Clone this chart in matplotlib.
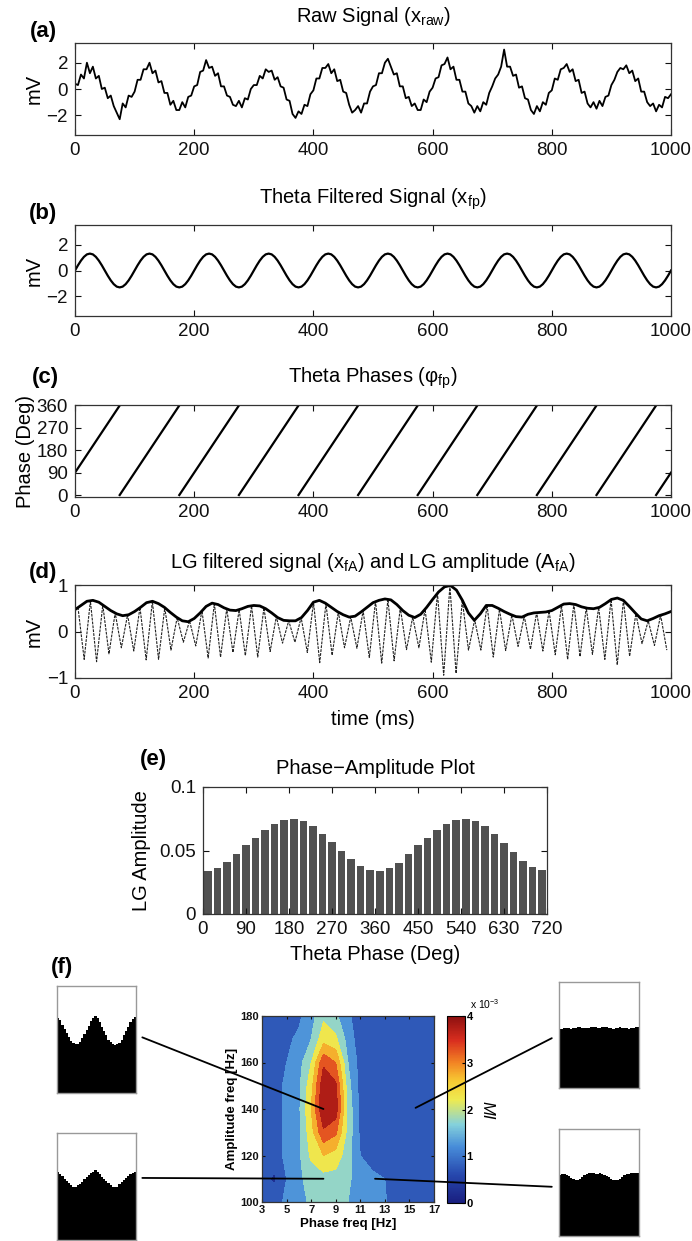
import matplotlib
matplotlib.use("Agg")
import matplotlib.pyplot as plt
import numpy as np
from matplotlib.patches import ConnectionPatch
from matplotlib.cm import ScalarMappable
from matplotlib.colors import Normalize, LinearSegmentedColormap

plt.rcParams["font.family"] = ["Liberation Sans", "DejaVu Sans"]
plt.rcParams["mathtext.fontset"] = "custom"
plt.rcParams["mathtext.rm"] = "Liberation Sans"
plt.rcParams["mathtext.it"] = "Liberation Sans:italic"
plt.rcParams["mathtext.bf"] = "Liberation Sans:bold"

# ---------------------------------------------------------------------------
# Data
# ---------------------------------------------------------------------------

# (a) raw signal, one value every 5 ms (mV)
raw_mv = [
    0.4, 0.3, 1.1, 0.8, 2.0, 1.2, 1.7, 0.8, 1.0, 0.0, 0.1, -0.7, -0.5, -1.3, -1.8, -2.3, -1.1, -1.4, -0.5, -0.6,
    -0.2, 0.7, 0.7, 1.5, 1.5, 2.0, 1.2, 1.4, 0.5, 0.6, -0.3, -0.3, -1.2, -0.9, -1.6, -1.6, -1.0, -1.4, -0.6, -0.5,
    0.2, 0.3, 1.3, 1.4, 2.2, 1.6, 1.7, 1.0, 1.2, 0.2, 0.2, -0.5, -0.6, -1.2, -1.3, -0.9, -1.4, -0.7, -0.8, 0.0,
    0.3, 0.3, 1.0, 0.8, 1.5, 1.3, 1.4, 0.7, 0.9, 0.2, 0.1, -0.8, -0.9, -1.9, -2.2, -1.7, -1.9, -1.2, -1.3, -0.4,
    -0.1, 0.8, 0.8, 1.6, 1.6, 1.9, 1.2, 1.5, 0.6, 0.7, -0.2, -0.3, -1.2, -1.8, -1.6, -1.3, -1.8, -1.1, -1.1, -0.2,
    0.2, 0.3, 1.2, 1.2, 2.0, 2.3, 1.7, 1.1, 1.2, 0.2, 0.2, -0.7, -0.6, -1.3, -1.1, -1.6, -1.6, -0.8, -1.0, -0.2,
    0.1, 0.8, 0.9, 1.8, 1.9, 2.4, 1.5, 1.7, 0.7, 0.7, -0.2, -0.2, -1.1, -1.3, -1.8, -1.3, -1.7, -1.0, -1.2, -0.3,
    0.2, 0.8, 1.1, 1.7, 3.0, 1.7, 1.7, 1.0, 1.1, 0.1, 0.2, -0.7, -0.8, -1.6, -1.9, -1.3, -1.7, -1.0, -1.2, -0.3,
    -0.1, 0.8, 0.7, 1.5, 1.6, 1.9, 1.3, 1.5, 0.6, 0.7, -0.3, -0.2, -1.1, -1.4, -1.0, -1.5, -0.9, -1.3, -0.6, -0.5,
    0.3, 0.7, 1.3, 1.6, 1.5, 1.8, 1.2, 1.4, 0.6, 0.8, -0.2, -0.2, -1.0, -1.3, -1.1, -1.7, -1.2, -1.4, -0.6, -0.7,
    -0.4,
]

# (b) theta filtered signal, one value every 5 ms (mV)
theta_mv = [
    0, 0.4, 0.76, 1.05, 1.24, 1.3, 1.24, 1.05, 0.76, 0.4, 0, -0.4, -0.76, -1.05, -1.24, -1.3, -1.24, -1.05, -0.76, -0.4,
    0, 0.4, 0.76, 1.05, 1.24, 1.3, 1.24, 1.05, 0.76, 0.4, 0, -0.4, -0.76, -1.05, -1.24, -1.3, -1.24, -1.05, -0.76, -0.4,
    0, 0.4, 0.76, 1.05, 1.24, 1.3, 1.24, 1.05, 0.76, 0.4, 0, -0.4, -0.76, -1.05, -1.24, -1.3, -1.24, -1.05, -0.76, -0.4,
    0, 0.4, 0.76, 1.05, 1.24, 1.3, 1.24, 1.05, 0.76, 0.4, 0, -0.4, -0.76, -1.05, -1.24, -1.3, -1.24, -1.05, -0.76, -0.4,
    0, 0.4, 0.76, 1.05, 1.24, 1.3, 1.24, 1.05, 0.76, 0.4, 0, -0.4, -0.76, -1.05, -1.24, -1.3, -1.24, -1.05, -0.76, -0.4,
    0, 0.4, 0.76, 1.05, 1.24, 1.3, 1.24, 1.05, 0.76, 0.4, 0, -0.4, -0.76, -1.05, -1.24, -1.3, -1.24, -1.05, -0.76, -0.4,
    0, 0.4, 0.76, 1.05, 1.24, 1.3, 1.24, 1.05, 0.76, 0.4, 0, -0.4, -0.76, -1.05, -1.24, -1.3, -1.24, -1.05, -0.76, -0.4,
    0, 0.4, 0.76, 1.05, 1.24, 1.3, 1.24, 1.05, 0.76, 0.4, 0, -0.4, -0.76, -1.05, -1.24, -1.3, -1.24, -1.05, -0.76, -0.4,
    0, 0.4, 0.76, 1.05, 1.24, 1.3, 1.24, 1.05, 0.76, 0.4, 0, -0.4, -0.76, -1.05, -1.24, -1.3, -1.24, -1.05, -0.76, -0.4,
    0, 0.4, 0.76, 1.05, 1.24, 1.3, 1.24, 1.05, 0.76, 0.4, 0, -0.4, -0.76, -1.05, -1.24, -1.3, -1.24, -1.05, -0.76, -0.4,
    0,
]

# (c) theta phase ramps: start/end time (ms) and phase (deg) of each segment
phase_t0 = [0, 75, 175, 275, 375, 475, 575, 675, 775, 875, 975]
phase_t1 = [75, 175, 275, 375, 475, 575, 675, 775, 875, 975, 1000]
phase_p0 = [90, 0, 0, 0, 0, 0, 0, 0, 0, 0, 0]
phase_p1 = [360, 360, 360, 360, 360, 360, 360, 360, 360, 360, 90]

# (d) LG amplitude envelope, one value every 10 ms (mV)
lg_env_mv = [
    0.47, 0.56, 0.65, 0.67, 0.63, 0.54, 0.45, 0.38, 0.34, 0.36,
    0.43, 0.52, 0.62, 0.65, 0.60, 0.52, 0.41, 0.31, 0.23, 0.21,
    0.28, 0.40, 0.54, 0.61, 0.58, 0.51, 0.46, 0.45, 0.49, 0.54,
    0.56, 0.55, 0.49, 0.40, 0.30, 0.24, 0.23, 0.23, 0.30, 0.45,
    0.63, 0.67, 0.61, 0.52, 0.43, 0.36, 0.31, 0.33, 0.42, 0.52,
    0.62, 0.67, 0.70, 0.68, 0.58, 0.45, 0.35, 0.30, 0.37, 0.52,
    0.69, 0.85, 0.96, 0.99, 0.89, 0.67, 0.40, 0.24, 0.38, 0.56,
    0.56, 0.50, 0.43, 0.37, 0.32, 0.31, 0.37, 0.40, 0.41, 0.42,
    0.45, 0.52, 0.59, 0.60, 0.58, 0.53, 0.50, 0.49, 0.52, 0.60,
    0.69, 0.72, 0.67, 0.54, 0.40, 0.27, 0.23, 0.28, 0.34, 0.38,
    0.43,
]

# (d) LG filtered signal: successive peaks/troughs, ~10.4 ms apart, first at 5 ms
lg_ext_mv = [
    0.52, -0.60, 0.66, -0.65, 0.57, -0.48, 0.40, -0.35, 0.36, -0.42,
    0.52, -0.61, 0.65, -0.60, 0.51, -0.40, 0.30, -0.23, 0.23, -0.31,
    0.45, -0.57, 0.60, -0.55, 0.49, -0.45, 0.47, -0.52, 0.55, -0.55,
    0.51, -0.43, 0.32, -0.25, 0.23, -0.23, 0.30, -0.45, 0.63, -0.67,
    0.60, -0.51, 0.42, -0.35, 0.31, -0.36, 0.45, -0.56, 0.65, -0.68,
    0.69, -0.63, 0.51, -0.39, 0.31, -0.35, 0.48, -0.66, 0.82, -0.94,
    0.98, -0.90, 0.67, -0.40, 0.25, -0.40, 0.56, -0.55, 0.48, -0.41,
    0.36, -0.32, 0.33, -0.38, 0.41, -0.42, 0.44, -0.50, 0.56, -0.60,
    0.59, -0.54, 0.51, -0.49, 0.52, -0.60, 0.69, -0.72, 0.67, -0.53,
    0.38, -0.26, 0.23, -0.30, 0.35, -0.40,
]

# (e) phase-amplitude histogram, 36 bins of 20 deg
pa_amp = [
    0.034, 0.036, 0.041, 0.047, 0.054, 0.060, 0.066, 0.071, 0.074,
    0.075, 0.073, 0.069, 0.063, 0.057, 0.050, 0.043, 0.038, 0.035,
    0.034, 0.036, 0.040, 0.047, 0.054, 0.060, 0.066, 0.071, 0.074,
    0.075, 0.073, 0.069, 0.063, 0.056, 0.049, 0.042, 0.037, 0.035,
]

# (f) comodulogram (MI x 1e-3)
phase_freq = [3, 4, 5, 6, 7, 8, 9, 10, 11, 12, 13, 14, 15, 16, 17]
amp_freq = [100, 110, 120, 130, 140, 150, 160, 170, 180]
mi_e3 = [
    [0.7, 0.8, 1.1, 1.3, 1.6, 1.7, 1.7, 1.5, 1.2, 1.1, 1.05, 0.7, 0.6, 0.6, 0.6],
    [0.7, 0.4, 1.0, 1.4, 1.7, 1.8, 1.8, 1.6, 1.2, 1.1, 1.0, 0.7, 0.6, 0.6, 0.6],
    [0.7, 0.8, 1.1, 1.4, 2.1, 2.5, 2.3, 1.7, 1.0, 0.8, 0.7, 0.6, 0.6, 0.6, 0.6],
    [0.6, 0.8, 1.1, 1.4, 2.3, 3.4, 3.1, 1.8, 0.9, 0.7, 0.6, 0.6, 0.6, 0.6, 0.6],
    [0.6, 0.8, 1.1, 1.4, 2.5, 4.0, 3.8, 1.8, 0.9, 0.7, 0.6, 0.6, 0.6, 0.6, 0.6],
    [0.6, 0.8, 1.1, 1.4, 2.3, 3.9, 3.6, 1.7, 0.8, 0.6, 0.6, 0.6, 0.6, 0.6, 0.6],
    [0.6, 0.7, 1.0, 1.3, 2.0, 3.4, 3.0, 1.5, 0.8, 0.6, 0.6, 0.6, 0.6, 0.6, 0.6],
    [0.6, 0.6, 0.9, 1.1, 1.5, 2.3, 2.1, 1.3, 0.7, 0.6, 0.6, 0.6, 0.6, 0.6, 0.6],
    [0.6, 0.6, 0.7, 0.9, 1.3, 1.9, 1.6, 1.1, 0.7, 0.6, 0.6, 0.6, 0.6, 0.6, 0.6],
]

# (f) example phase-amplitude distributions (normalised), 36 bins each
inset_tl = [0.70, 0.68, 0.64, 0.60, 0.56, 0.52, 0.49, 0.47, 0.46, 0.46, 0.48, 0.51,
            0.55, 0.59, 0.63, 0.67, 0.70, 0.72, 0.70, 0.66, 0.62, 0.58, 0.54, 0.50,
            0.48, 0.46, 0.45, 0.46, 0.47, 0.50, 0.54, 0.58, 0.62, 0.66, 0.69, 0.71]
inset_bl = [0.64, 0.62, 0.60, 0.57, 0.55, 0.53, 0.51, 0.50, 0.50, 0.51, 0.52, 0.54,
            0.57, 0.59, 0.61, 0.63, 0.64, 0.65, 0.64, 0.62, 0.59, 0.57, 0.55, 0.53,
            0.51, 0.50, 0.50, 0.50, 0.52, 0.54, 0.56, 0.58, 0.60, 0.62, 0.63, 0.64]
inset_tr = [0.56, 0.56, 0.57, 0.57, 0.57, 0.56, 0.57, 0.57, 0.58, 0.58, 0.57, 0.57,
            0.57, 0.57, 0.58, 0.58, 0.58, 0.57, 0.57, 0.58, 0.58, 0.58, 0.57, 0.57,
            0.56, 0.57, 0.57, 0.58, 0.57, 0.57, 0.57, 0.56, 0.57, 0.57, 0.58, 0.58]
inset_br = [0.57, 0.58, 0.58, 0.57, 0.56, 0.54, 0.53, 0.52, 0.52, 0.53, 0.55, 0.57,
            0.58, 0.59, 0.59, 0.59, 0.58, 0.58, 0.59, 0.58, 0.57, 0.56, 0.55, 0.53,
            0.52, 0.52, 0.52, 0.53, 0.55, 0.57, 0.58, 0.58, 0.59, 0.59, 0.59, 0.59]

# where each inset points on the comodulogram (phase Hz, amplitude Hz)
inset_targets = {"tl": (8, 140), "bl": (8, 110), "tr": (15.5, 140.5), "br": (12.2, 110)}

# ---------------------------------------------------------------------------
# Layout helpers (pixel boxes in a 692 x 1241 canvas)
# ---------------------------------------------------------------------------

W, H = 692, 1241
FS_TICK = 13.5
FS_TITLE = 14.5

# jet as it looks in the (slightly washed-out) print
mi_cmap = LinearSegmentedColormap.from_list("mi_jet", [
    (0.00, (0.10, 0.12, 0.50)),
    (0.15, (0.15, 0.28, 0.68)),
    (0.30, (0.28, 0.55, 0.85)),
    (0.42, (0.52, 0.82, 0.86)),
    (0.55, (0.93, 0.92, 0.32)),
    (0.65, (0.97, 0.80, 0.20)),
    (0.75, (0.95, 0.52, 0.14)),
    (0.87, (0.85, 0.18, 0.12)),
    (1.00, (0.55, 0.06, 0.06)),
])


def box(l, t, r, b):
    return [l / W, 1 - b / H, (r - l) / W, (b - t) / H]


def ftext(fig, x, y, s, **kw):
    kw.setdefault("ha", "center")
    kw.setdefault("va", "center")
    fig.text(x / W, 1 - y / H, s, **kw)


def matlab_style(ax, size=FS_TICK, length=4, pad=5):
    ax.tick_params(direction="in", top=True, right=True, length=length,
                   width=0.8, labelsize=size, pad=pad, colors="#111111")
    for s in ax.spines.values():
        s.set_linewidth(0.9)
        s.set_color("#333333")


def time_axis(ax):
    ax.set_xlim(0, 1000)
    ax.set_xticks(np.arange(0, 1001, 200))
    matlab_style(ax)


fig = plt.figure(figsize=(W / 100, H / 100), dpi=100)

t5 = np.arange(len(raw_mv)) * 5

# (a) --------------------------------------------------------------------
ax_a = fig.add_axes(box(75, 43, 671, 135))
ax_a.plot(t5, raw_mv, color="k", lw=1.3)
time_axis(ax_a)
ax_a.set_ylim(-3.5, 3.5)
ax_a.set_yticks([-2, 0, 2])
ax_a.set_ylabel("mV", fontsize=FS_TITLE, labelpad=2)
ftext(fig, 373, 17, r"Raw Signal (x$_{\mathrm{raw}}$)", fontsize=FS_TITLE)
ftext(fig, 43, 32, "(a)", fontsize=16, fontweight="bold")

# (b) --------------------------------------------------------------------
ax_b = fig.add_axes(box(75, 225, 671, 316))
ax_b.plot(t5, theta_mv, color="k", lw=1.6)
time_axis(ax_b)
ax_b.set_ylim(-3.5, 3.5)
ax_b.set_yticks([-2, 0, 2])
ax_b.set_ylabel("mV", fontsize=FS_TITLE, labelpad=2)
ftext(fig, 373, 199, r"Theta Filtered Signal (x$_{\mathrm{fp}}$)", fontsize=FS_TITLE)
ftext(fig, 43, 214, "(b)", fontsize=16, fontweight="bold")

# (c) --------------------------------------------------------------------
ax_c = fig.add_axes(box(75, 405, 671, 497))
for t0, t1, p0, p1 in zip(phase_t0, phase_t1, phase_p0, phase_p1):
    ax_c.plot([t0, t1], [p0, p1], color="k", lw=1.6)
time_axis(ax_c)
ax_c.set_ylim(-8, 362)
ax_c.set_yticks([0, 90, 180, 270, 360])
ax_c.set_ylabel("Phase (Deg)", fontsize=FS_TITLE, labelpad=1)
ftext(fig, 373, 378, "Theta Phases (\u03c6$_{\\mathrm{fp}}$)", fontsize=FS_TITLE)
ftext(fig, 45, 378, "(c)", fontsize=16, fontweight="bold")

# (d) --------------------------------------------------------------------
ax_d = fig.add_axes(box(75, 585, 671, 678))
t_env = np.arange(len(lg_env_mv)) * 10
t_ext = 5 + 10.4 * np.arange(len(lg_ext_mv))
ax_d.plot(t_ext, lg_ext_mv, color="#222222", lw=0.8, ls=(0, (2.5, 1)))
ax_d.plot(t_env, lg_env_mv, color="k", lw=2.0)
time_axis(ax_d)
ax_d.set_ylim(-1, 1)
ax_d.set_yticks([-1, 0, 1])
ax_d.set_ylabel("mV", fontsize=FS_TITLE, labelpad=2)
ax_d.set_xlabel("time (ms)", fontsize=FS_TITLE, labelpad=6)
ftext(fig, 373, 562,
      r"LG filtered signal (x$_{\mathrm{fA}}$) and LG amplitude (A$_{\mathrm{fA}}$)",
      fontsize=FS_TITLE)
ftext(fig, 43, 572, "(d)", fontsize=16, fontweight="bold")

# (e) --------------------------------------------------------------------
ax_e = fig.add_axes(box(203, 787, 547, 914))
bin_centres = 10 + 20 * np.arange(len(pa_amp))
ax_e.bar(bin_centres, pa_amp, width=16, color="#505050", edgecolor="none")
ax_e.set_xlim(0, 720)
ax_e.set_ylim(0, 0.1)
ax_e.set_xticks(np.arange(0, 721, 90))
ax_e.set_yticks([0, 0.05, 0.1])
ax_e.set_yticklabels(["0", "0.05", "0.1"])
matlab_style(ax_e)
ax_e.set_xlabel("Theta Phase (Deg)", fontsize=FS_TITLE, labelpad=5)
ax_e.set_ylabel("LG Amplitude", fontsize=FS_TITLE, labelpad=6)
ftext(fig, 375, 768, "Phase\u2212Amplitude Plot", fontsize=FS_TITLE)
ftext(fig, 153, 760, "(e)", fontsize=16, fontweight="bold")

# (f) comodulogram --------------------------------------------------------
ax_f = fig.add_axes(box(262, 1016, 434, 1202))
levels = np.arange(0, 4.01, 0.5)
ax_f.contourf(phase_freq, amp_freq, np.array(mi_e3), levels=levels,
              cmap=mi_cmap, vmin=0, vmax=4)
ax_f.set_xlim(3, 17)
ax_f.set_ylim(100, 180)
ax_f.set_xticks(np.arange(3, 18, 2))
ax_f.set_yticks(np.arange(100, 181, 20))
matlab_style(ax_f, size=8, length=2, pad=2)
for lab in ax_f.get_xticklabels() + ax_f.get_yticklabels():
    lab.set_fontweight("bold")
ax_f.set_xlabel("Phase freq [Hz]", fontsize=9.5, fontweight="bold", labelpad=2)
ax_f.set_ylabel("Amplitude freq [Hz]", fontsize=9.5, fontweight="bold", labelpad=2)

cax = fig.add_axes(box(447, 1016, 465, 1203))
cb = fig.colorbar(ScalarMappable(norm=Normalize(0, 4), cmap=mi_cmap), cax=cax)
cb.set_ticks([0, 1, 2, 3, 4])
cax.tick_params(labelsize=8, length=2, pad=1, direction="in")
for lab in cax.get_yticklabels():
    lab.set_fontweight("bold")
cb.outline.set_linewidth(0.8)
ftext(fig, 470, 1004, r"x 10$^{-3}$", fontsize=7.5, ha="left")
ftext(fig, 487, 1110, "MI", fontsize=12, fontstyle="italic", rotation=-90)
ftext(fig, 62, 967, "(f)", fontsize=16, fontweight="bold")

# (f) example distributions + connector lines ------------------------------
insets = {
    "tl": (box(57, 986, 136, 1093), inset_tl, (1.08, 0.52)),
    "bl": (box(57, 1133, 136, 1240), inset_bl, (1.08, 0.58)),
    "tr": (box(559, 982, 639, 1088), inset_tr, (-0.09, 0.47)),
    "br": (box(559, 1129, 639, 1236), inset_br, (-0.09, 0.46)),
}
for key, (rect, vals, anchor) in insets.items():
    ax_i = fig.add_axes(rect)
    edges = np.arange(len(vals) + 1)
    ax_i.stairs(vals, edges, fill=True, color="k", baseline=0)
    ax_i.set_xlim(0, len(vals))
    ax_i.set_ylim(0, 1)
    ax_i.set_xticks([])
    ax_i.set_yticks([])
    for s in ax_i.spines.values():
        s.set_color("#999999")
        s.set_linewidth(1.0)
    con = ConnectionPatch(xyA=anchor, coordsA=ax_i.transAxes,
                          xyB=inset_targets[key], coordsB=ax_f.transData,
                          color="k", lw=1.3)
    fig.add_artist(con)

fig.savefig("out.png", dpi=100)
